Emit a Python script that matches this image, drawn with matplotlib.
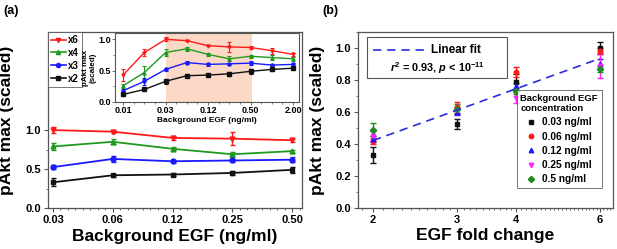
import numpy as np
import matplotlib
matplotlib.use("Agg")
import matplotlib.pyplot as plt
from matplotlib.ticker import MultipleLocator, FixedLocator, NullFormatter
from matplotlib.lines import Line2D
from matplotlib.patches import Rectangle

plt.rcParams['font.family'] = ['Liberation Sans', 'DejaVu Sans']
plt.rcParams['font.weight'] = 'bold'
plt.rcParams['axes.labelweight'] = 'bold'
plt.rcParams['mathtext.fontset'] = 'custom'
plt.rcParams['mathtext.rm'] = 'Liberation Sans:bold'
plt.rcParams['mathtext.it'] = 'Liberation Sans:bold:italic'
plt.rcParams['mathtext.bf'] = 'Liberation Sans:bold'

# ---------------- data ----------------
conc_labels = ['0.03', '0.06', '0.12', '0.25', '0.50']
conc_legend = ['0.03 ng/ml', '0.06 ng/ml', '0.12 ng/ml', '0.25 ng/ml', '0.5 ng/ml']
folds = [2, 3, 4, 6]
fold_labels = ['x2', 'x3', 'x4', 'x6']

x2_mean = [0.33, 0.42, 0.43, 0.45, 0.49]
x2_err = [0.05, 0.02, 0.02, 0.03, 0.04]
x3_mean = [0.525, 0.63, 0.60, 0.61, 0.62]
x3_err = [0.03, 0.035, 0.02, 0.02, 0.03]
x4_mean = [0.79, 0.85, 0.76, 0.69, 0.73]
x4_err = [0.05, 0.03, 0.02, 0.035, 0.02]
x6_mean = [1.00, 0.98, 0.90, 0.89, 0.87]
x6_err = [0.04, 0.02, 0.03, 0.08, 0.02]

# Inset: wider range of background EGF
inset_labels = ['0.01', '', '0.03', '', '0.12', '', '0.50', '', '2.00']
in_x6 = [0.43, 0.79, 1.00, 0.98, 0.90, 0.88, 0.87, 0.82, 0.76]
in_x6_err = [0.10, 0.06, 0.03, 0.01, 0.01, 0.08, 0.02, 0.05, 0.02]
in_x4 = [0.26, 0.47, 0.79, 0.85, 0.76, 0.69, 0.73, 0.71, 0.69]
in_x4_err = [0.03, 0.10, 0.05, 0.03, 0.02, 0.04, 0.02, 0.04, 0.03]
in_x3 = [0.18, 0.33, 0.52, 0.63, 0.60, 0.61, 0.62, 0.59, 0.60]
in_x3_err = [0.02, 0.06, 0.03, 0.03, 0.02, 0.02, 0.03, 0.01, 0.02]
in_x2 = [0.12, 0.20, 0.33, 0.42, 0.43, 0.45, 0.49, 0.52, 0.54]
in_x2_err = [0.01, 0.03, 0.04, 0.02, 0.02, 0.03, 0.04, 0.02, 0.02]
shade_range = [2, 6.08]

fit_text = r'$r^2$ = 0.93, $p$ < 10$^{-11}$'

# ---------------- styles ----------------
fold_colors = {'x6': '#ff1a1a', 'x4': '#1f9a1f', 'x3': '#1a1aff', 'x2': '#111111'}
fold_markers = {'x6': 'v', 'x4': '^', 'x3': 'o', 'x2': 's'}
conc_colors = ['#111111', '#ff1a1a', '#1a1aff', '#ff22ff', '#1f8a1f']
conc_markers = ['s', 'o', '^', 'v', 'D']
spine_col = '#555555'

fig = plt.figure(figsize=(6.17, 2.49), dpi=100)

series = {'x6': (x6_mean, x6_err), 'x4': (x4_mean, x4_err),
          'x3': (x3_mean, x3_err), 'x2': (x2_mean, x2_err)}
inset_series = {'x6': (in_x6, in_x6_err), 'x4': (in_x4, in_x4_err),
                'x3': (in_x3, in_x3_err), 'x2': (in_x2, in_x2_err)}

# ---------------- panel (a) ----------------
axa = fig.add_axes([0.0778, 0.1647, 0.4117, 0.7068])
xa = np.arange(len(conc_labels))
handles = []
for key in ['x6', 'x4', 'x3', 'x2']:
    m, e = series[key]
    axa.errorbar(xa, m, yerr=e, color=fold_colors[key], marker=fold_markers[key],
                 ms=3.5, lw=1.3, capsize=1.8, elinewidth=1.0, capthick=1.0)
    handles.append(Line2D([], [], color=fold_colors[key], marker=fold_markers[key],
                          ms=3.0, lw=1.2, label=key))
axa.set_xlim(-0.084, 4.167)
axa.set_ylim(0, 2.26)
axa.set_xticks(xa)
axa.set_xticklabels(conc_labels)
axa.xaxis.set_minor_locator(MultipleLocator(0.125))
axa.set_yticks([0, 0.5, 1.0])
axa.set_yticklabels(['0.0', '0.5', '1.0'])
axa.yaxis.set_minor_locator(FixedLocator([0.25, 0.75]))
axa.tick_params(labelsize=8, width=0.8, length=3, color=spine_col, pad=2)
axa.tick_params(which='minor', length=1.6, width=0.6, color=spine_col)
for s in axa.spines.values():
    s.set_color(spine_col)
    s.set_linewidth(0.9)
axa.set_xlabel('Background EGF (ng/ml)', fontsize=12.5, labelpad=3)
axa.set_ylabel('pAkt max (scaled)', fontsize=12.5, labelpad=4)
axa.yaxis.set_label_coords(-0.135, 0.5)
leg = axa.legend(handles=handles, loc='upper left', fontsize=7, frameon=True,
                 fancybox=False, edgecolor=spine_col, handlelength=1.5,
                 handletextpad=0.3, borderpad=0.3, labelspacing=0.3,
                 borderaxespad=0.0)
leg.get_frame().set_linewidth(0.7)

# inset
axi = fig.add_axes([0.1864, 0.5904, 0.2982, 0.2766])
xi = np.arange(len(inset_labels))
axi.axvspan(shade_range[0], shade_range[1], color='#fbd9c6', lw=0, zorder=0)
for key in ['x6', 'x4', 'x3', 'x2']:
    m, e = inset_series[key]
    axi.errorbar(xi, m, yerr=e, color=fold_colors[key], marker=fold_markers[key],
                 ms=2.2, lw=1.0, capsize=1.3, elinewidth=0.8, capthick=0.8)
axi.set_xlim(-0.38, 8.28)
axi.set_ylim(0, 1.1)
axi.set_xticks(xi[::2])
axi.set_xticklabels([l for l in inset_labels if l])
axi.xaxis.set_minor_locator(MultipleLocator(0.5))
axi.set_yticks([0, 0.5, 1.0])
axi.set_yticklabels(['0.0', '0.5', '1.0'])
axi.yaxis.set_minor_locator(FixedLocator([0.25, 0.75]))
axi.tick_params(labelsize=6.5, width=0.6, length=2, color=spine_col, pad=1)
axi.tick_params(which='minor', length=1.2, width=0.5, color=spine_col)
for s in axi.spines.values():
    s.set_color(spine_col)
    s.set_linewidth(0.8)
axi.set_xlabel('Background EGF (ng/ml)', fontsize=6, labelpad=1)
axi.set_ylabel('pAkt max\n(scaled)', fontsize=5.8, labelpad=1.5, linespacing=1.0)

fig.text(0.005, 0.955, '(a)', fontsize=9, fontweight='bold', va='center')
fig.text(0.522, 0.955, '(b)', fontsize=9, fontweight='bold', va='center')

# ---------------- panel (b) ----------------
axb = fig.add_axes([0.5802, 0.1647, 0.4133, 0.7068])
axb.set_xscale('log', base=2)
all_means = [x2_mean, x3_mean, x4_mean, x6_mean]
all_errs = [x2_err, x3_err, x4_err, x6_err]
chandles = []
for j, lab in enumerate(conc_legend):
    ys = [all_means[i][j] for i in range(len(folds))]
    es = [all_errs[i][j] for i in range(len(folds))]
    axb.errorbar(folds, ys, yerr=es, color=conc_colors[j], marker=conc_markers[j],
                 ms=3.2, lw=0, elinewidth=1.0, capsize=2.0, capthick=1.0, zorder=3)
    chandles.append(Line2D([], [], color=conc_colors[j], marker=conc_markers[j],
                           ms=3.2, lw=0, label=lab))
# linear fit on log2(fold)
fx = np.repeat(np.log2(folds), len(conc_legend))
fy = np.concatenate(all_means)
slope, intercept = np.polyfit(fx, fy, 1)
xf = np.array([folds[0], folds[-1]], dtype=float)
axb.plot(xf, intercept + slope * np.log2(xf), color='#2a2ae0', lw=1.2,
         dashes=(5, 3.5), zorder=4)
axb.set_xlim(1.86, 6.39)
axb.set_xticks(folds)
axb.set_xticklabels([str(f) for f in folds])
axb.xaxis.set_minor_locator(FixedLocator(np.arange(1.9, 6.4, 0.1)))
axb.xaxis.set_minor_formatter(NullFormatter())
axb.set_yticks(np.arange(0, 1.01, 0.2))
axb.set_yticklabels([f'{v:.1f}' for v in np.arange(0, 1.01, 0.2)])
axb.yaxis.set_minor_locator(MultipleLocator(0.1))
axb.set_ylim(0, 1.1)
axb.tick_params(labelsize=8, width=0.8, length=3, color=spine_col, pad=2)
axb.tick_params(which='minor', length=1.6, width=0.6, color=spine_col)
for s in axb.spines.values():
    s.set_color(spine_col)
    s.set_linewidth(0.9)
axb.set_xlabel('EGF fold change', fontsize=12.5, labelpad=2)
axb.set_ylabel('pAkt max (scaled)', fontsize=12.5, labelpad=4)
axb.yaxis.set_label_coords(-0.13, 0.5)

legb = axb.legend(handles=chandles, loc='lower right', fontsize=7.3, frameon=True,
                  fancybox=False, edgecolor=spine_col, title='Background EGF\nconcentration',
                  title_fontproperties={'weight': 'bold', 'size': 6.8},
                  handlelength=1.0, handletextpad=0.6, borderpad=0.35,
                  labelspacing=0.42, bbox_to_anchor=(0.975, 0.085))
legb.get_frame().set_linewidth(0.7)

# fit annotation box
axb.add_patch(Rectangle((0.035, 0.74), 0.55, 0.23, transform=axb.transAxes,
                        fill=False, edgecolor=spine_col, lw=0.8, zorder=5))
axb.add_line(Line2D([0.06, 0.26], [0.9, 0.9], transform=axb.transAxes,
                    color='#2a2ae0', lw=1.2, dashes=(5, 3.5)))
axb.text(0.285, 0.9, 'Linear fit', transform=axb.transAxes, fontsize=8.5,
         fontweight='bold', va='center', ha='left')
axb.text(0.31, 0.795, fit_text, transform=axb.transAxes, fontsize=7.8,
         fontweight='bold', va='center', ha='center')

fig.savefig('out.png', dpi=100)
